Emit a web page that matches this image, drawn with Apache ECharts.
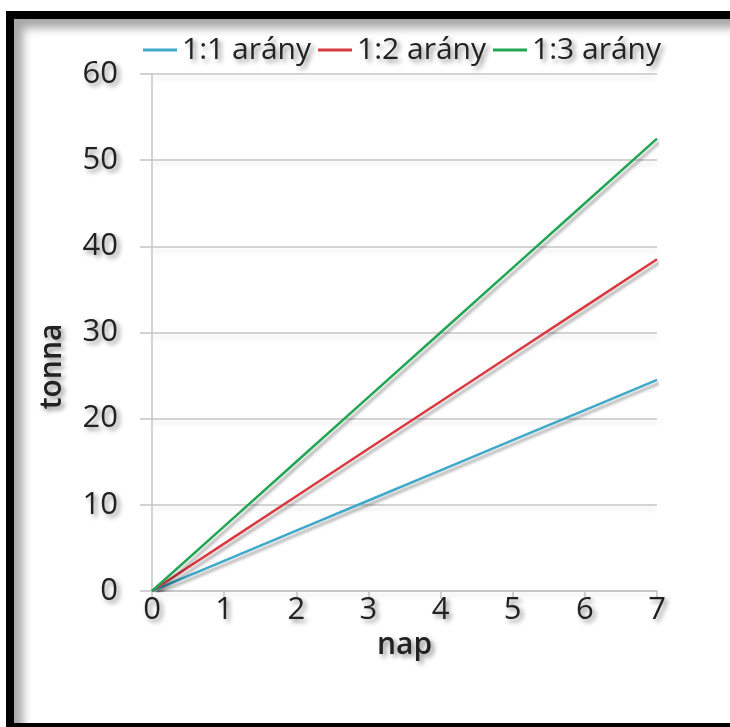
<!DOCTYPE html>
<html>
<head>
<meta charset="utf-8">
<script src="https://cdn.jsdelivr.net/npm/echarts@6/dist/echarts.min.js"></script>
<style>
  html, body { margin:0; padding:0; width:730px; height:727px; overflow:hidden; background:#fff; }
  #frame { position:absolute; left:6px; top:11px; width:800px; height:704px;
           border-top:8px solid #000; border-left:8px solid #000; border-bottom:8px solid #000;
           box-shadow: inset 9px 9px 10px rgba(0,0,0,0.35); background:#fff; }
  #chart { position:absolute; left:0; top:0; width:730px; height:727px; }
</style>
</head>
<body>
<div id="frame"></div>
<div id="chart"></div>
<script>
const days = [0, 1, 2, 3, 4, 5, 6, 7];
const xTickLabels = ['0','1','2','3','4','5','6','7'];
const yTickLabels = ['0','10','20','30','40','50','60'];
const seriesNames = ['1:1 arány', '1:2 arány', '1:3 arány'];
const ratio11 = [0, 3.5, 7, 10.5, 14, 17.5, 21, 24.5];
const ratio12 = [0, 5.5, 11, 16.5, 22, 27.5, 33, 38.5];
const ratio13 = [0, 7.5, 15, 22.5, 30, 37.5, 45, 52.5];
const colors = ['#3fa9c9', '#d83a40', '#22a653'];
const xName = 'nap';
const yName = 'tonna';

const font = '"Open Sans", "Noto Sans", sans-serif';
const txtShadow = { textShadowColor:'rgba(0,0,0,0.45)', textShadowBlur:5, textShadowOffsetX:3, textShadowOffsetY:3 };

const chart = echarts.init(document.getElementById('chart'), null, {renderer:'canvas'});
const mk = (name, data, color) => ({
  name, type:'line', data: days.map((d,i)=>[d, data[i]]),
  showSymbol:false, symbol:'none', animation:false,
  lineStyle:{ color, width:2.5, shadowColor:'rgba(0,0,0,0.35)', shadowBlur:3, shadowOffsetX:3, shadowOffsetY:3 },
  itemStyle:{ color }
});
chart.setOption({
  backgroundColor:'transparent',
  animation:false,
  legend:{
    left:138, top:30, icon:'rect', itemWidth:34, itemHeight:3, itemGap:7,
    textStyle:Object.assign({ fontFamily:font, fontSize:30, color:'#222' }, txtShadow),
    data: seriesNames
  },
  grid:{ left:152, right:73, top:74, bottom:136 },
  xAxis:{
    type:'value', min:0, max:7, interval:1,
    name:xName, nameLocation:'middle', nameGap:31,
    nameTextStyle:Object.assign({ fontFamily:font, fontSize:30, fontWeight:600, color:'#222' }, txtShadow),
    axisLine:{ show:true, lineStyle:{ color:'#c4c4c4', width:1.5 } },
    axisTick:{ show:true, length:8, lineStyle:{ color:'#c4c4c4', width:1.5 } },
    axisLabel:Object.assign({ fontFamily:font, fontSize:31, color:'#222', margin:4,
      formatter:(v)=>xTickLabels[Math.round(v)] }, txtShadow),
    splitLine:{ show:false }
  },
  yAxis:{
    type:'value', min:0, max:60, interval:10,
    name:yName, nameLocation:'middle', nameGap:85, nameRotate:90,
    nameTextStyle:Object.assign({ fontFamily:font, fontSize:30, fontWeight:600, color:'#222', padding:[0,68,0,0] }, txtShadow),
    axisLine:{ show:true, lineStyle:{ color:'#c4c4c4', width:1.5 } },
    axisTick:{ show:true, length:12, lineStyle:{ color:'#c4c4c4', width:1.5 } },
    axisLabel:Object.assign({ fontFamily:font, fontSize:31, color:'#222', margin:34,
      formatter:(v)=>yTickLabels[Math.round(v/10)] }, txtShadow),
    splitLine:{ show:true, lineStyle:{ color:'#c4c4c4', width:1.5, shadowColor:'rgba(0,0,0,0.12)', shadowBlur:4, shadowOffsetY:4 } }
  },
  series:[ mk(seriesNames[0], ratio11, colors[0]), mk(seriesNames[1], ratio12, colors[1]), mk(seriesNames[2], ratio13, colors[2]) ]
});
</script>
</body>
</html>
